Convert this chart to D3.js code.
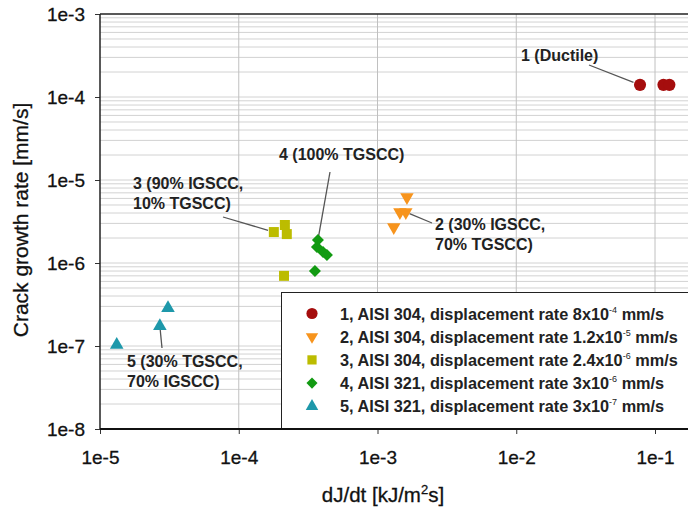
<!DOCTYPE html>
<html><head><meta charset="utf-8">
<script src="https://cdn.jsdelivr.net/npm/d3@7"></script>
<style>body{margin:0;background:#fff}svg{display:block}</style>
</head><body>
<svg id="c" width="688" height="508"></svg>
<script>
// ---- data ----
const seriesNames = ["1","2","3","4","5"];
const legendMain = [
  "1, AISI 304, displacement rate 8x10",
  "2, AISI 304, displacement rate 1.2x10",
  "3, AISI 304, displacement rate 2.4x10",
  "4, AISI 321, displacement rate 3x10",
  "5, AISI 321, displacement rate 3x10"];
const legendExp = ["-4","-5","-6","-6","-7"];
const s1x = [0.078, 0.115, 0.127];           const s1y = [1.4e-4, 1.4e-4, 1.4e-4];
const s2x = [1.63e-3, 1.45e-3, 1.6e-3, 1.31e-3]; const s2y = [6.2e-6, 4.1e-6, 4.1e-6, 2.7e-6];
const s3x = [1.79e-4, 2.15e-4, 2.22e-4, 2.12e-4]; const s3y = [2.36e-6, 2.87e-6, 2.23e-6, 7.0e-7];
const s4x = [3.72e-4, 3.66e-4, 4.05e-4, 4.32e-4, 3.54e-4]; const s4y = [1.89e-6, 1.56e-6, 1.36e-6, 1.25e-6, 8.0e-7];
const s5x = [1.32e-5, 2.7e-5, 3.09e-5];      const s5y = [1.03e-7, 1.74e-7, 2.87e-7];
const xTicks = [1e-5, 1e-4, 1e-3, 1e-2, 1e-1];
const xTickLabels = ["1e-5","1e-4","1e-3","1e-2","1e-1"];
const yTicks = [1e-3, 1e-4, 1e-5, 1e-6, 1e-7, 1e-8];
const yTickLabels = ["1e-3","1e-4","1e-5","1e-6","1e-7","1e-8"];
const annLines = [["1 (Ductile)"],["2 (30% IGSCC,","70% TGSCC)"],["3 (90% IGSCC,","10% TGSCC)"],["4 (100% TGSCC)"],["5 (30% TGSCC,","70% IGSCC)"]];

const colors = ["#a50d0d","#f7941d","#bcbc00","#129a12","#1e98aa"];
const shapes = [d3.symbolCircle, d3.symbolTriangle, d3.symbolSquare, d3.symbolSquare, d3.symbolTriangle];
const sizes = [115, 78, 100, 72, 80];
const rotations = [0, 180, 0, 45, 0];

const svg = d3.select("#c");
const L = 100, R = 688, T = 14, B = 429;
const x = d3.scaleLog().domain([1e-5, Math.pow(10, -1 + (R - 655) / 138.75)]).range([L, R]);
const y = d3.scaleLog().domain([1e-8, 1e-3]).range([B, T]);
const FONT = "Liberation Sans, Arial, sans-serif";

// grid
const g = svg.append("g");
const minorY = [];
for (let e = -8; e < -3; e++) for (let m = 1; m <= 9; m++) minorY.push(m * Math.pow(10, e));
g.selectAll("line.hy").data(minorY).join("line")
  .attr("x1", L).attr("x2", R).attr("y1", d => y(d)).attr("y2", d => y(d))
  .attr("stroke", "#d2d2d2").attr("stroke-width", 1);
g.selectAll("line.vx").data(xTicks.slice(1)).join("line")
  .attr("x1", d => x(d)).attr("x2", d => x(d)).attr("y1", T).attr("y2", B)
  .attr("stroke", "#c0c0c0").attr("stroke-width", 1);

// axes
const xAxis = d3.axisBottom(x).tickValues(xTicks).tickFormat((d, i) => xTickLabels[i]).tickSize(5).tickSizeOuter(0);
const yAxis = d3.axisLeft(y).tickValues(yTicks).tickFormat((d, i) => yTickLabels[i]).tickSize(5).tickSizeOuter(0);
const gx = svg.append("g").attr("transform", `translate(0,${B})`).call(xAxis);
const gy = svg.append("g").attr("transform", `translate(${L},0)`).call(yAxis);
[gx, gy].forEach(a => {
  a.select(".domain").remove();
  a.selectAll(".tick line").attr("stroke", "#333").attr("stroke-width", 1);
  a.selectAll(".tick text").attr("font-family", FONT).attr("font-size", 19).attr("fill", "#111")
    .attr("stroke", "#111").attr("stroke-width", 0.3);
});
gx.selectAll(".tick text").attr("y", 0).attr("dy", 0).attr("transform", "translate(0,35)");
gy.selectAll(".tick text").attr("x", -15).attr("dy", "0.36em");

// legend box
const lg = svg.append("g");
lg.append("rect").attr("x", 281.5).attr("y", 292.5).attr("width", 420).attr("height", 136)
  .attr("fill", "#fff").attr("stroke", "#222").attr("stroke-width", 1);

// frame lines
svg.append("line").attr("x1", L).attr("x2", R).attr("y1", T).attr("y2", T).attr("stroke", "#222").attr("stroke-width", 1.5);
svg.append("line").attr("x1", L).attr("x2", L).attr("y1", T).attr("y2", B).attr("stroke", "#222").attr("stroke-width", 1.5);
svg.append("line").attr("x1", L).attr("x2", R).attr("y1", B).attr("y2", B).attr("stroke", "#111").attr("stroke-width", 2);

// legend entries
seriesNames.forEach((n, i) => {
  const cy = 313.5 + i * 23.2;
  lg.append("path").attr("d", d3.symbol().type(shapes[i]).size(sizes[i] * 0.85)())
    .attr("transform", `translate(312,${cy}) rotate(${rotations[i]})`).attr("fill", colors[i]);
  const t = lg.append("text").attr("x", 340).attr("y", cy + 6)
    .attr("font-family", FONT).attr("font-weight", "bold").attr("font-size", 16.3).attr("fill", "#222");
  t.append("tspan").text(legendMain[i]);
  t.append("tspan").attr("dy", -7).attr("font-size", 9).attr("font-weight", "normal").text(legendExp[i]);
  t.append("tspan").attr("dy", 7).text(" mm/s");
});

// annotations: text position (px) and leader start (px), leader ends at a data point
const annPos = [
  {tx: 521, ty: 55, lx: 589, ly: 65, px: s1x[0], py: s1y[0], gap: 7},
  {tx: 435, ty: 224, lx: 432, ly: 223, px: s2x[2], py: s2y[2], gap: 4},
  {tx: 133, ty: 183, lx: 223, ly: 217, px: s3x[0], py: s3y[0], gap: 6},
  {tx: 279, ty: 154, lx: 330, ly: 172, px: s4x[0], py: s4y[0], gap: 2},
  {tx: 127, ty: 361, lx: 162, ly: 348, px: s5x[1], py: s5y[1], gap: 4}
];
annPos.forEach((a, i) => {
  const px = x(a.px), py = y(a.py);
  const dx = px - a.lx, dy = py - a.ly, len = Math.hypot(dx, dy);
  svg.append("line").attr("x1", a.lx).attr("y1", a.ly)
    .attr("x2", px - dx / len * a.gap).attr("y2", py - dy / len * a.gap)
    .attr("stroke", "#555").attr("stroke-width", 1.3);
  annLines[i].forEach((ln, k) => {
    svg.append("text").attr("x", a.tx).attr("y", a.ty + 6 + k * 19.5)
      .attr("font-family", FONT).attr("font-weight", "bold").attr("font-size", 16).attr("fill", "#222").text(ln);
  });
});

// points
const sx = [s1x, s2x, s3x, s4x, s5x], sy = [s1y, s2y, s3y, s4y, s5y];
seriesNames.forEach((n, i) => {
  const pts = sx[i].map((v, k) => [v, sy[i][k]]);
  svg.append("g").selectAll("path").data(pts).join("path")
    .attr("d", d3.symbol().type(shapes[i]).size(sizes[i])())
    .attr("transform", d => `translate(${x(d[0])},${y(d[1])}) rotate(${rotations[i]})`)
    .attr("fill", colors[i]);
});

// axis titles
svg.append("text").attr("x", 383).attr("y", 502).attr("text-anchor", "middle")
  .attr("font-family", FONT).attr("font-size", 20.5).attr("fill", "#111").attr("stroke", "#111").attr("stroke-width", 0.3)
  .call(t => { t.append("tspan").text("dJ/dt [kJ/m"); t.append("tspan").attr("dy", -8).attr("font-size", 13).text("2"); t.append("tspan").attr("dy", 8).text("s]"); });
svg.append("text").attr("transform", "translate(28,220) rotate(-90)").attr("text-anchor", "middle")
  .attr("font-family", FONT).attr("font-size", 21).attr("fill", "#111").attr("stroke", "#111").attr("stroke-width", 0.3)
  .text("Crack growth rate [mm/s]");
</script>
</body></html>
